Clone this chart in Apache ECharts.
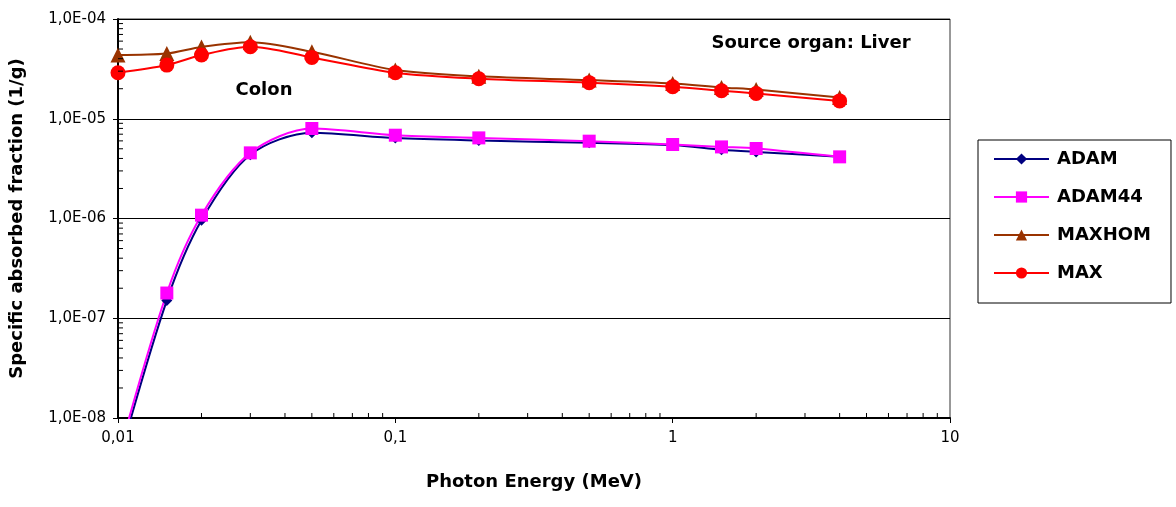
<!DOCTYPE html>
<html><head><meta charset="utf-8">
<script src="https://cdn.jsdelivr.net/npm/echarts@6/dist/echarts.min.js"></script>
<style>html,body{margin:0;padding:0;background:#fff}#c{width:1176px;height:507px}</style>
</head><body><div id="c"></div>
<script>
const energies = [0.01, 0.015, 0.02, 0.03, 0.05, 0.1, 0.2, 0.5, 1, 1.5, 2, 4];
const adam    = [3.5e-9, 1.51e-7, 9.6e-7, 4.35e-6, 7.25e-6, 6.4e-6, 6.05e-6, 5.75e-6, 5.45e-6, 4.9e-6, 4.65e-6, 4.15e-6];
const adam44  = [4.0e-9, 1.79e-7, 1.08e-6, 4.55e-6, 7.98e-6, 6.84e-6, 6.43e-6, 5.96e-6, 5.52e-6, 5.22e-6, 5.03e-6, 4.15e-6];
const maxhom  = [4.35e-5, 4.5e-5, 5.25e-5, 5.85e-5, 4.7e-5, 3.08e-5, 2.66e-5, 2.44e-5, 2.26e-5, 2.06e-5, 1.96e-5, 1.63e-5];
const maxPh   = [2.89e-5, 3.45e-5, 4.35e-5, 5.27e-5, 4.12e-5, 2.89e-5, 2.52e-5, 2.3e-5, 2.09e-5, 1.91e-5, 1.79e-5, 1.51e-5];
const seriesNames = ['ADAM', 'ADAM44', 'MAXHOM', 'MAX'];
const xTickLabels = {'0.01': '0,01', '0.1': '0,1', '1': '1', '10': '10'};
const yTickLabels = ['1,0E-08', '1,0E-07', '1,0E-06', '1,0E-05', '1,0E-04'];
const xMinorTicks = [0.02,0.03,0.04,0.05,0.06,0.07,0.08,0.09,0.2,0.3,0.4,0.5,0.6,0.7,0.8,0.9,2,3,4,5,6,7,8,9];
const yMinorMult = [2,3,4,5,6,7,8,9];
const yDecades = [1e-8, 1e-7, 1e-6, 1e-5];
const yMinorTicks = [];
yDecades.forEach(d => yMinorMult.forEach(m => yMinorTicks.push(m * d)));

const chart = echarts.init(document.getElementById('c'), null, {renderer: 'canvas'});
const boldFont = {fontFamily: 'DejaVu Sans', fontWeight: 'bold', fontSize: 18, color: '#000'};

function mk(name, data, color, symbol, size) {
  return {
    name, type: 'line', data: energies.map((e, i) => [e, data[i]]),
    smooth: 0.3, symbol, symbolSize: size, showSymbol: true,
    lineStyle: {color, width: 2}, itemStyle: {color}, clip: true, z: 3
  };
}
function minor(data, axis) {
  return {
    type: 'custom', silent: true, z: 4, clip: false,
    data: axis === 'x' ? data.map(v => [v, 1e-8]) : data.map(v => [0.01, v]),
    encode: {x: 0, y: 1},
    renderItem: (params, api) => {
      const p = api.coord([api.value(0), api.value(1)]);
      const shape = axis === 'x' ? {x1: p[0], y1: p[1], x2: p[0], y2: p[1] - 5}
                                 : {x1: p[0], y1: p[1], x2: p[0] + 5, y2: p[1]};
      return {type: 'line', shape, style: {stroke: '#000', lineWidth: 1}};
    }
  };
}

chart.setOption({
  animation: false,
  backgroundColor: '#fff',
  grid: {left: 118, top: 19, width: 832, height: 399, show: true, borderColor: '#333', borderWidth: 1, backgroundColor: 'transparent'},
  xAxis: {
    type: 'log', logBase: 10, min: 0.01, max: 10,
    name: 'Photon Energy (MeV)', nameLocation: 'middle', nameGap: 55,
    nameTextStyle: boldFont,
    axisLine: {show: true, onZero: false, lineStyle: {color: '#000', width: 2}},
    axisTick: {show: true, inside: false, length: 5, lineStyle: {color: '#000'}},
    axisLabel: {fontFamily: 'DejaVu Sans', fontSize: 15, color: '#000', margin: 13,
      formatter: v => xTickLabels[String(+v.toPrecision(3))] || ''},
    splitLine: {show: false}
  },
  yAxis: {
    type: 'log', logBase: 10, min: 1e-8, max: 1e-4,
    name: 'Specific absorbed fraction (1/g)', nameLocation: 'middle', nameGap: 92,
    nameTextStyle: boldFont,
    axisLine: {show: true, onZero: false, lineStyle: {color: '#000', width: 2}},
    axisTick: {show: true, inside: false, length: 5, lineStyle: {color: '#000'}},
    axisLabel: {fontFamily: 'DejaVu Sans', fontSize: 15, color: '#000', margin: 12,
      formatter: v => yTickLabels[Math.round(Math.log10(v)) + 8]},
    splitLine: {show: true, lineStyle: {color: '#000', width: 1}}
  },
  legend: {
    data: seriesNames, orient: 'vertical', left: 978, top: 140,
    padding: [10, 20, 21, 15], itemGap: 20, itemWidth: 55, itemHeight: 14,
    backgroundColor: '#fff', borderColor: '#000', borderWidth: 1, borderRadius: 0,
    textStyle: {fontFamily: 'DejaVu Sans', fontWeight: 'bold', fontSize: 18, color: '#000', padding: [0, 0, 0, 3]}
  },
  graphic: [
    {type: 'text', x: 264, y: 90, style: {text: 'Colon', font: 'bold 18px "DejaVu Sans"', fill: '#000', align: 'center', verticalAlign: 'middle'}},
    {type: 'text', x: 811, y: 43, style: {text: 'Source organ: Liver', font: 'bold 18px "DejaVu Sans"', fill: '#000', align: 'center', verticalAlign: 'middle'}}
  ],
  series: [
    mk('ADAM', adam, '#000080', 'diamond', 11),
    mk('ADAM44', adam44, '#ff00ff', 'rect', 13),
    mk('MAXHOM', maxhom, '#993300', 'triangle', 15),
    mk('MAX', maxPh, '#ff0000', 'circle', 15),
    minor(xMinorTicks, 'x'),
    minor(yMinorTicks, 'y')
  ]
});
</script></body></html>
